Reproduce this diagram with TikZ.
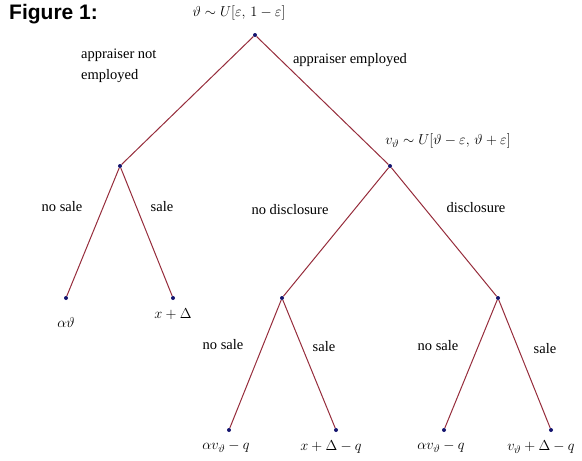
\documentclass[tikz,border=0pt]{standalone}
\usepackage{fontspec}
\setmainfont{Liberation Serif}
\newfontfamily\titlefont{Liberation Sans}
\begin{document}
\begin{tikzpicture}[x=1pt,y=-1pt,
  branch/.style={draw={rgb,255:red,150;green,45;blue,60},line width=1pt},
  dotnode/.style={circle,fill={rgb,255:red,20;green,20;blue,110},inner sep=0pt,minimum size=4pt},
  lab/.style={font=\fontsize{14.5}{16}\selectfont,inner sep=0pt},
  mlab/.style={font=\fontsize{15}{17}\selectfont,inner sep=0pt}]
\useasboundingbox (0,0) rectangle (582,461);
\node[font=\titlefont\bfseries\fontsize{21}{23}\selectfont,anchor=west,inner sep=0pt] (title) at (9,14) {Figure 1:};
% tree nodes
\node[dotnode] (r) at (255,35) {};
\node[dotnode] (a) at (120,166) {};
\node[dotnode] (b) at (390,166) {};
\node[dotnode] (a1) at (66,298) {};
\node[dotnode] (a2) at (173,298) {};
\node[dotnode] (c) at (282,298) {};
\node[dotnode] (d) at (498,298) {};
\node[dotnode] (c1) at (229,430) {};
\node[dotnode] (c2) at (336,430) {};
\node[dotnode] (d1) at (444,430) {};
\node[dotnode] (d2) at (551,430) {};
% branches
\draw[branch] (r) -- (a);
\draw[branch] (r) -- (b);
\draw[branch] (a) -- (a1);
\draw[branch] (a) -- (a2);
\draw[branch] (b) -- (c);
\draw[branch] (b) -- (d);
\draw[branch] (c) -- (c1);
\draw[branch] (c) -- (c2);
\draw[branch] (d) -- (d1);
\draw[branch] (d) -- (d2);
% node labels
\node[mlab] (rl) at (239,13) {$\vartheta\sim U[\varepsilon,\,1-\varepsilon]$};
\node[mlab] (bl) at (448,141) {$v_\vartheta\sim U[\vartheta-\varepsilon,\,\vartheta+\varepsilon]$};
\node[mlab] (a1l) at (66,322) {$\alpha\vartheta$};
\node[mlab] (a2l) at (173,314) {$x+\Delta$};
\node[mlab] (c1l) at (226,447) {$\alpha v_\vartheta-q$};
\node[mlab] (c2l) at (331,447) {$x+\Delta-q$};
\node[mlab] (d1l) at (441,447) {$\alpha v_\vartheta-q$};
\node[mlab] (d2l) at (541,447) {$v_\vartheta+\Delta-q$};
% edge labels
\node[lab,anchor=west] (e1) at (81,55) {appraiser not};
\node[lab,anchor=west] (e1b) at (81,76) {employed};
\node[lab] (e2) at (350,60) {appraiser employed};
\node[lab] (e3) at (62,207) {no sale};
\node[lab] (e4) at (162,207) {sale};
\node[lab] (e5) at (290,210) {no disclosure};
\node[lab] (e6) at (476,208) {disclosure};
\node[lab] (e7) at (223,345) {no sale};
\node[lab] (e8) at (324,347) {sale};
\node[lab] (e9) at (438,346) {no sale};
\node[lab] (e10) at (545,349) {sale};
\end{tikzpicture}
\end{document}
